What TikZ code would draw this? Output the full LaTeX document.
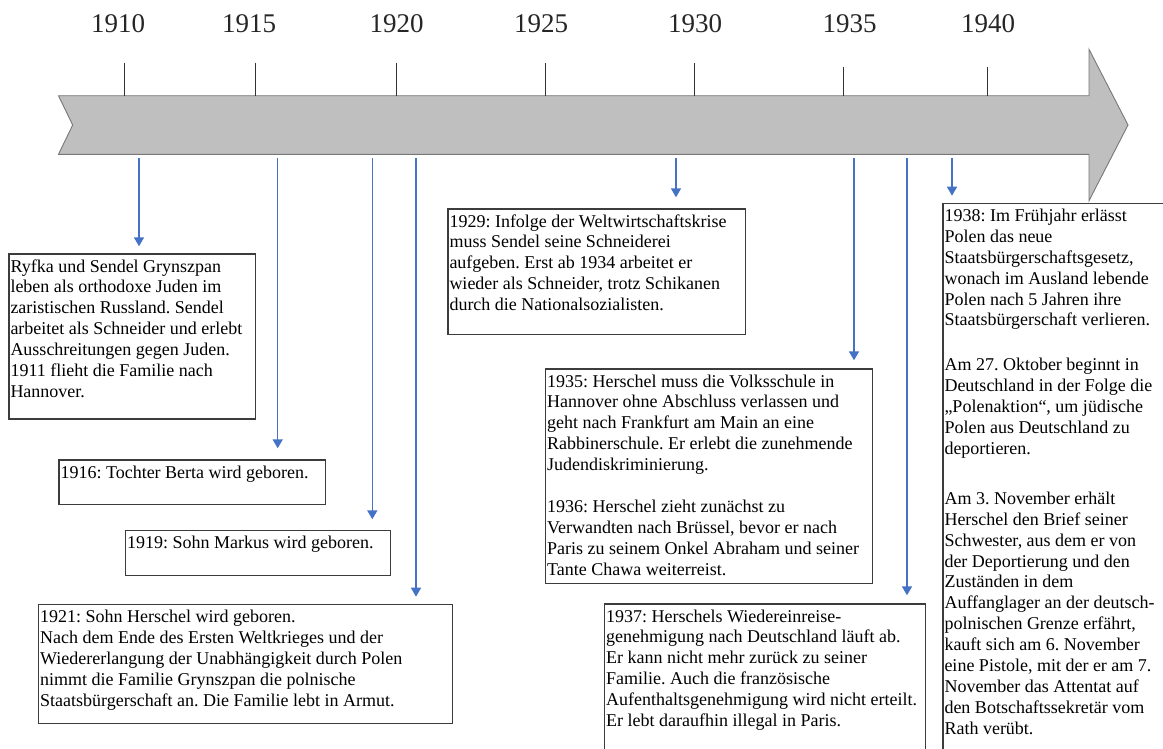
\documentclass[tikz,border=0pt]{standalone}
\usepackage{fontspec}
\setmainfont{Liberation Serif}
\usetikzlibrary{arrows.meta}
\definecolor{tlgray}{RGB}{191,191,191}
\definecolor{tledge}{RGB}{120,120,120}
\definecolor{evblue}{RGB}{68,114,196}
\definecolor{frameclr}{RGB}{60,60,60}
\frenchspacing
\begin{document}
\begin{tikzpicture}[x=1pt,y=-1pt,
  yearlabel/.style={font=\fontsize{27}{30}\selectfont, text=black!85, inner sep=0pt},
  tickline/.style={line width=1pt, black!80},
  evarrow/.style={evblue, line width=1.5pt, -{Triangle[length=9pt,width=10pt]}},
  frame/.style={draw=frameclr, line width=1.2pt, fill=white, anchor=north west, inner sep=0pt},
  btext/.style={anchor=north west, align=left, inner xsep=2pt, inner ysep=2.5pt,
                font=\fontsize{18}{20.9}\selectfont\frenchspacing, text=black}
]
\clip (0,0) rectangle (1163,748);
\fill[white] (0,0) rectangle (1163,748);

% timeline arrow
\draw[fill=tlgray, draw=tledge, line width=0.9pt]
  (58.5,95.7) -- (1089,95.7) -- (1089,49.3) -- (1128,125) -- (1089,200.7)
  -- (1089,154.3) -- (58.5,154.3) -- (72.7,125) -- cycle;

% ticks
\foreach \x/\t in {124.8/62.7, 255.6/62.7, 396.9/62.7, 545.3/62.7, 694/62.7, 843/66.7, 987/66.7}
  \draw[tickline] (\x,\t) -- (\x,95.7);

% year labels
\node[yearlabel] (y1910) at (118,23.3) {1910};
\node[yearlabel] (y1915) at (249,23.3) {1915};
\node[yearlabel] (y1920) at (396.6,23.3) {1920};
\node[yearlabel] (y1925) at (541,23.3) {1925};
\node[yearlabel] (y1930) at (695,23.3) {1930};
\node[yearlabel] (y1935) at (849.5,23.3) {1935};
\node[yearlabel] (y1940) at (988,23.3) {1940};

% boxes
\node[frame, minimum width=246.7pt, minimum height=165pt] (b1) at (8.3,253.3) {};
\node[btext] (t1) at (b1.north west) {\rule{0pt}{16pt}Ryfka und Sendel Grynszpan\\
leben als orthodoxe Juden im\\
zaristischen Russland. Sendel\\
arbeitet als Schneider und erlebt\\
Ausschreitungen gegen Juden.\\
1911 flieht die Familie nach\\
Hannover.};

\node[frame, minimum width=266.7pt, minimum height=44.7pt] (b2) at (58.3,459.3) {};
\node[btext] (t2) at (b2.north west) {\rule{0pt}{16pt}1916: Tochter Berta wird geboren.};

\node[frame, minimum width=265pt, minimum height=45pt] (b3) at (125,530) {};
\node[btext] (t3) at (b3.north west) {\rule{0pt}{16pt}1919: Sohn Markus wird geboren.};

\node[frame, minimum width=414pt, minimum height=118.7pt] (b4) at (37.9,604) {};
\node[btext] (t4) at (b4.north west) {\rule{0pt}{16pt}1921: Sohn Herschel wird geboren.\\
Nach dem Ende des Ersten Weltkrieges und der\\
Wiedererlangung der Unabhängigkeit durch Polen\\
nimmt die Familie Grynszpan die polnische\\
Staatsbürgerschaft an. Die Familie lebt in Armut.};

\node[frame, minimum width=297.7pt, minimum height=125.7pt] (b5) at (447.3,208.3) {};
\node[btext] (t5) at (b5.north west) {\rule{0pt}{16pt}1929: Infolge der Weltwirtschaftskrise\\
muss Sendel seine Schneiderei\\
aufgeben. Erst ab 1934 arbeitet er\\
wieder als Schneider, trotz Schikanen\\
durch die Nationalsozialisten.};

\node[frame, minimum width=326.7pt, minimum height=214.4pt] (b6) at (545,368.3) {};
\node[btext] (t6) at (b6.north west) {\rule{0pt}{16pt}1935: Herschel muss die Volksschule in\\
Hannover ohne Abschluss verlassen und\\
geht nach Frankfurt am Main an eine\\
Rabbinerschule. Er erlebt die zunehmende\\
Judendiskriminierung.\\[20.9pt]
1936: Herschel zieht zunächst zu\\
Verwandten nach Brüssel, bevor er nach\\
Paris zu seinem Onkel Abraham und seiner\\
Tante Chawa weiterreist.};

\node[frame, minimum width=321pt, minimum height=170pt] (b7) at (604,603.3) {};
\node[btext] (t7) at (b7.north west) {\rule{0pt}{16pt}1937: Herschels Wiedereinreise-\\
genehmigung nach Deutschland läuft ab.\\
Er kann nicht mehr zurück zu seiner\\
Familie. Auch die französische\\
Aufenthaltsgenehmigung wird nicht erteilt.\\
Er lebt daraufhin illegal in Paris.};

\node[frame, minimum width=240pt, minimum height=570pt] (b8) at (942.3,202.7) {};
\node[btext] (t8) at (b8.north west) {\rule{0pt}{16pt}1938: Im Frühjahr erlässt\\
Polen das neue\\
Staatsbürgerschaftsgesetz,\\
wonach im Ausland lebende\\
Polen nach 5 Jahren ihre\\
Staatsbürgerschaft verlieren.\\[24pt]
Am 27. Oktober beginnt in\\
Deutschland in der Folge die\\
„Polenaktion“, um jüdische\\
Polen aus Deutschland zu\\
deportieren.\\[29pt]
Am 3. November erhält\\
Herschel den Brief seiner\\
Schwester, aus dem er von\\
der Deportierung und den\\
Zuständen in dem\\
Auffanglager an der deutsch-\\
polnischen Grenze erfährt,\\
kauft sich am 6. November\\
eine Pistole, mit der er am 7.\\
November das Attentat auf\\
den Botschaftssekretär vom\\
Rath verübt.};

% event arrows
\coordinate (s1) at (139,158);
\coordinate (s2) at (277.7,158);
\coordinate (s3) at (372.3,158);
\coordinate (s4) at (416,158);
\coordinate (s5) at (676,158);
\coordinate (s6) at (854,158);
\coordinate (s7) at (907,158);
\coordinate (s8) at (952,158);
\draw[evarrow, shorten >=7pt] (s1) -- (s1 |- b1.north);
\draw[evarrow, shorten >=11pt] (s2) -- (s2 |- b2.north);
\draw[evarrow, shorten >=10.7pt] (s3) -- (s3 |- b3.north);
\draw[evarrow, shorten >=7.3pt] (s4) -- (s4 |- b4.north);
\draw[evarrow, shorten >=11pt] (s5) -- (s5 |- b5.north);
\draw[evarrow, shorten >=8pt] (s6) -- (s6 |- b6.north);
\draw[evarrow, shorten >=8pt] (s7) -- (s7 |- b7.north);
\draw[evarrow, shorten >=7pt] (s8) -- (s8 |- b8.north);
\end{tikzpicture}
\end{document}
